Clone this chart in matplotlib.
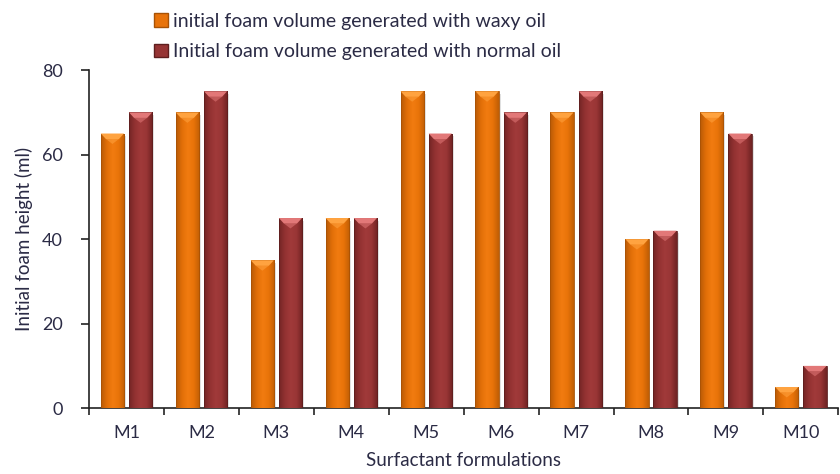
import numpy as np
import matplotlib
matplotlib.use("Agg")
import matplotlib.pyplot as plt
from matplotlib.patches import Rectangle, Polygon
from matplotlib.colors import LinearSegmentedColormap

plt.rcParams['font.family'] = ['Lato', 'DejaVu Sans']

categories = ["M1", "M2", "M3", "M4", "M5", "M6", "M7", "M8", "M9", "M10"]
waxy_oil = [65, 70, 35, 45, 75, 75, 70, 40, 70, 5]
normal_oil = [70, 75, 45, 45, 65, 70, 75, 42, 65, 10]
series_labels = ["initial foam volume generated with waxy oil",
                 "Initial foam volume generated with normal oil"]

text_color = "#2b2b45"

fig = plt.figure(figsize=(8.4, 4.74), dpi=100)
ax = fig.add_axes([0.106, 0.139, 0.892, 0.713])

x = np.arange(len(categories))
width = 0.31
offset = 0.188

# horizontal shading for a cylinder-like column look
orange_cmap = LinearSegmentedColormap.from_list(
    "orange_col", ["#b85a06", "#e26f08", "#f27c10", "#e87309", "#c05e05"])
red_cmap = LinearSegmentedColormap.from_list(
    "red_col", ["#742525", "#933232", "#a13a3a", "#983535", "#6e2323"])
orange_cap = "#ffa340"
red_cap = "#e27878"

grad = np.linspace(0, 1, 64).reshape(1, -1)


def draw_bars(xs, vals, cmap, cap_color, edge_color):
    bars = ax.bar(xs, vals, width, color="none", edgecolor="none", zorder=3)
    for b, v in zip(bars, vals):
        x0 = b.get_x()
        w = b.get_width()
        # soft drop shadow
        ax.add_patch(Rectangle((x0 + 0.025, 0), w, v - 0.6, facecolor="#000000",
                               alpha=0.12, edgecolor="none", zorder=2))
        im = ax.imshow(grad, cmap=cmap, aspect="auto",
                       extent=(x0, x0 + w, 0, v), zorder=3,
                       interpolation="bicubic")
        clip = Rectangle((x0, 0), w, v, transform=ax.transData)
        im.set_clip_path(clip)
        ax.add_patch(Rectangle((x0, 0), w, v, facecolor="none",
                               edgecolor=edge_color, linewidth=0.6, zorder=4))
        # bevelled top
        cap_h = 1.3
        ax.add_patch(Polygon([(x0, v), (x0 + w, v),
                              (x0 + w * 0.78, v - cap_h), (x0 + w * 0.22, v - cap_h)],
                             closed=True, facecolor=cap_color, edgecolor="none",
                             zorder=5))
        ax.add_patch(Polygon([(x0 + w * 0.22, v - cap_h), (x0 + w * 0.78, v - cap_h),
                              (x0 + w * 0.5, v - cap_h * 1.9)],
                             closed=True, facecolor=cap_color, edgecolor="none",
                             alpha=0.55, zorder=5))


draw_bars(x - offset, waxy_oil, orange_cmap, orange_cap, "#a85205")
draw_bars(x + offset, normal_oil, red_cmap, red_cap, "#5e1e1e")

ax.set_xlim(-0.5, len(categories) - 0.5)
ax.set_ylim(0, 80)
ax.set_yticks([0, 20, 40, 60, 80])
ax.set_xticks(x)
ax.set_xticklabels(categories)
ax.set_xticks(np.arange(-0.5, len(categories), 1.0), minor=True)
ax.tick_params(axis="x", which="major", length=0, pad=12, labelsize=13,
               labelcolor=text_color)
ax.tick_params(axis="x", which="minor", length=5, width=1.2, direction="out",
               color="#222222")
ax.tick_params(axis="y", length=6, width=1.2, direction="out", color="#222222",
               labelsize=13, labelcolor=text_color, pad=13)

for s in ["top", "right"]:
    ax.spines[s].set_visible(False)
ax.spines["left"].set_linewidth(1.2)
ax.spines["bottom"].set_linewidth(1.2)
ax.spines["left"].set_color("#222222")
ax.spines["bottom"].set_color("#222222")

ax.set_ylabel("Initial foam height (ml)", fontsize=13.5, color=text_color, labelpad=6)
ax.set_xlabel("Surfactant formulations", fontsize=13.5, color=text_color, labelpad=8)

# legend drawn as two rows at the top
handles = [Rectangle((0, 0), 1, 1, facecolor="#e8730a", edgecolor="#a85205"),
           Rectangle((0, 0), 1, 1, facecolor="#963434", edgecolor="#5e1e1e")]
fig.legend(handles, series_labels, loc="upper left",
           bbox_to_anchor=(0.170, 0.998), frameon=False, fontsize=14,
           labelcolor=text_color, handlelength=0.7, handleheight=0.7,
           handletextpad=0.25, labelspacing=0.7, borderaxespad=0.2)

fig.savefig("out.png", dpi=100)
